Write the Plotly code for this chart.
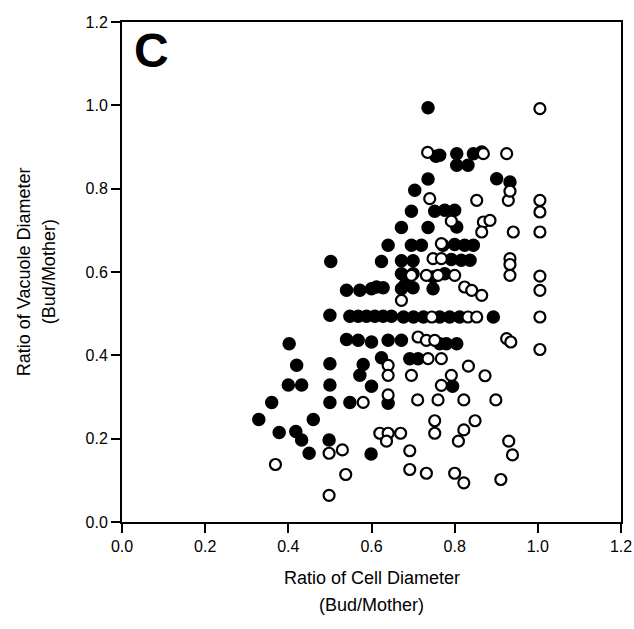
import plotly.graph_objects as go

# Filled circles (x = cell diameter ratio, y = vacuole diameter ratio)
filled_x = [0.736, 0.755, 0.764, 0.805, 0.845, 0.865, 0.805, 0.832, 0.736, 0.901, 0.933, 0.704,
            0.696, 0.752, 0.776, 0.800, 0.672, 0.736, 0.805,
            0.640, 0.696, 0.720, 0.772, 0.800, 0.824, 0.845,
            0.502, 0.624, 0.672, 0.700, 0.792, 0.816, 0.837,
            0.672, 0.700, 0.748, 0.776,
            0.540, 0.572, 0.600, 0.612, 0.628, 0.672, 0.700, 0.680, 0.748,
            0.500, 0.548, 0.568, 0.588, 0.608, 0.628, 0.648, 0.677, 0.701, 0.725, 0.764, 0.788, 0.812, 0.893,
            0.402, 0.540, 0.568, 0.600, 0.640, 0.672, 0.780, 0.805, 0.764,
            0.624, 0.692, 0.712,
            0.420, 0.500, 0.580, 0.572,
            0.400, 0.432, 0.500, 0.600, 0.795,
            0.360, 0.500, 0.548, 0.640,
            0.329, 0.460, 0.378, 0.418, 0.432, 0.498, 0.450, 0.599]
filled_y = [0.994, 0.878, 0.880, 0.884, 0.884, 0.888, 0.856, 0.856, 0.823, 0.824, 0.816, 0.796,
            0.746, 0.746, 0.748, 0.748, 0.707, 0.707, 0.708,
            0.664, 0.664, 0.664, 0.664, 0.666, 0.664, 0.664,
            0.625, 0.625, 0.627, 0.627, 0.630, 0.628, 0.628,
            0.596, 0.596, 0.588, 0.596,
            0.556, 0.556, 0.560, 0.564, 0.562, 0.560, 0.562, 0.568, 0.560,
            0.496, 0.494, 0.494, 0.494, 0.494, 0.494, 0.494, 0.492, 0.492, 0.492, 0.492, 0.492, 0.492, 0.492,
            0.428, 0.438, 0.436, 0.432, 0.436, 0.436, 0.428, 0.428, 0.428,
            0.394, 0.392, 0.392,
            0.376, 0.380, 0.378, 0.352,
            0.329, 0.329, 0.329, 0.326, 0.326,
            0.287, 0.287, 0.287, 0.285,
            0.246, 0.246, 0.215, 0.217, 0.197, 0.197, 0.165, 0.163]

# Open circles
open_x = [1.005, 0.735, 0.869, 0.925,
          0.740, 0.853, 0.929, 0.933, 1.005, 1.005,
          0.792, 0.869, 0.885, 0.865, 0.941, 1.005,
          0.768, 0.748, 0.768, 0.933, 0.933,
          0.696, 0.732, 0.760, 0.800, 0.933, 1.005,
          0.824, 0.841, 0.865, 1.005, 0.672,
          0.745, 0.832, 0.853, 1.005,
          0.712, 0.732, 0.752, 0.925, 0.935, 1.005,
          0.736, 0.768, 0.640, 0.833,
          0.640, 0.696, 0.792, 0.873, 0.768,
          0.640, 0.580, 0.711, 0.760, 0.822, 0.899,
          0.752, 0.849, 0.752, 0.822,
          0.620, 0.640, 0.670, 0.636, 0.809, 0.930,
          0.498, 0.530, 0.692, 0.939,
          0.369, 0.538, 0.692, 0.732, 0.800, 0.822, 0.911,
          0.498]
open_y = [0.992, 0.887, 0.884, 0.884,
          0.776, 0.772, 0.772, 0.794, 0.772, 0.744,
          0.722, 0.720, 0.724, 0.696, 0.696, 0.696,
          0.668, 0.632, 0.632, 0.632, 0.618,
          0.592, 0.592, 0.592, 0.592, 0.592, 0.590,
          0.564, 0.556, 0.544, 0.556, 0.532,
          0.492, 0.492, 0.492, 0.492,
          0.444, 0.436, 0.436, 0.440, 0.432, 0.414,
          0.392, 0.392, 0.376, 0.374,
          0.352, 0.352, 0.352, 0.351, 0.328,
          0.305, 0.287, 0.293, 0.293, 0.293, 0.293,
          0.243, 0.243, 0.213, 0.221,
          0.213, 0.213, 0.213, 0.194, 0.194, 0.194,
          0.165, 0.173, 0.171, 0.161,
          0.138, 0.114, 0.126, 0.117, 0.117, 0.094, 0.102,
          0.064]

tick_vals = [0.0, 0.2, 0.4, 0.6, 0.8, 1.0, 1.2]
tick_text = ["0.0", "0.2", "0.4", "0.6", "0.8", "1.0", "1.2"]

FONT = "Liberation Sans, Arial, Helvetica, sans-serif"

fig = go.Figure()
fig.add_trace(go.Scatter(x=filled_x, y=filled_y, mode="markers",
                         marker=dict(size=12, color="black", line=dict(color="black", width=1.5)),
                         showlegend=False, cliponaxis=False))
fig.add_trace(go.Scatter(x=open_x, y=open_y, mode="markers",
                         marker=dict(size=11, color="white", line=dict(color="black", width=2.2)),
                         showlegend=False, cliponaxis=False))

axis_common = dict(range=[0, 1.2], tickvals=tick_vals, ticktext=tick_text,
                   showgrid=False, zeroline=False, showline=True, linecolor="black",
                   linewidth=2, mirror=True, ticks="outside", ticklen=9, tickwidth=2,
                   tickcolor="black", tickfont=dict(family=FONT, size=16, color="black"))

fig.update_layout(
    width=634, height=629,
    margin=dict(l=122, r=13, t=22, b=107, autoexpand=False),
    paper_bgcolor="white", plot_bgcolor="white",
    xaxis=axis_common,
    yaxis=axis_common,
    annotations=[
        dict(text="<b>C</b>", x=0.06, y=0.944, xref="paper", yref="paper",
             showarrow=False, font=dict(family=FONT, size=48, color="black"),
             xanchor="center", yanchor="middle"),
        dict(text="Ratio of Cell Diameter", x=0.501, y=-0.112, xref="paper", yref="paper",
             showarrow=False, font=dict(family=FONT, size=18, color="black"),
             xanchor="center", yanchor="middle"),
        dict(text="(Bud/Mother)", x=0.501, y=-0.166, xref="paper", yref="paper",
             showarrow=False, font=dict(family=FONT, size=18, color="black"),
             xanchor="center", yanchor="middle"),
        dict(text="Ratio of Vacuole Diameter", x=-0.196, y=0.5, xref="paper", yref="paper",
             showarrow=False, textangle=-90, font=dict(family=FONT, size=18, color="black"),
             xanchor="center", yanchor="middle"),
        dict(text="(Bud/Mother)", x=-0.146, y=0.5, xref="paper", yref="paper",
             showarrow=False, textangle=-90, font=dict(family=FONT, size=18, color="black"),
             xanchor="center", yanchor="middle"),
    ],
)

fig.write_html("out.html",
               config={"displayModeBar": False},
               post_script="document.body.style.margin='0';document.body.style.overflow='hidden';")
